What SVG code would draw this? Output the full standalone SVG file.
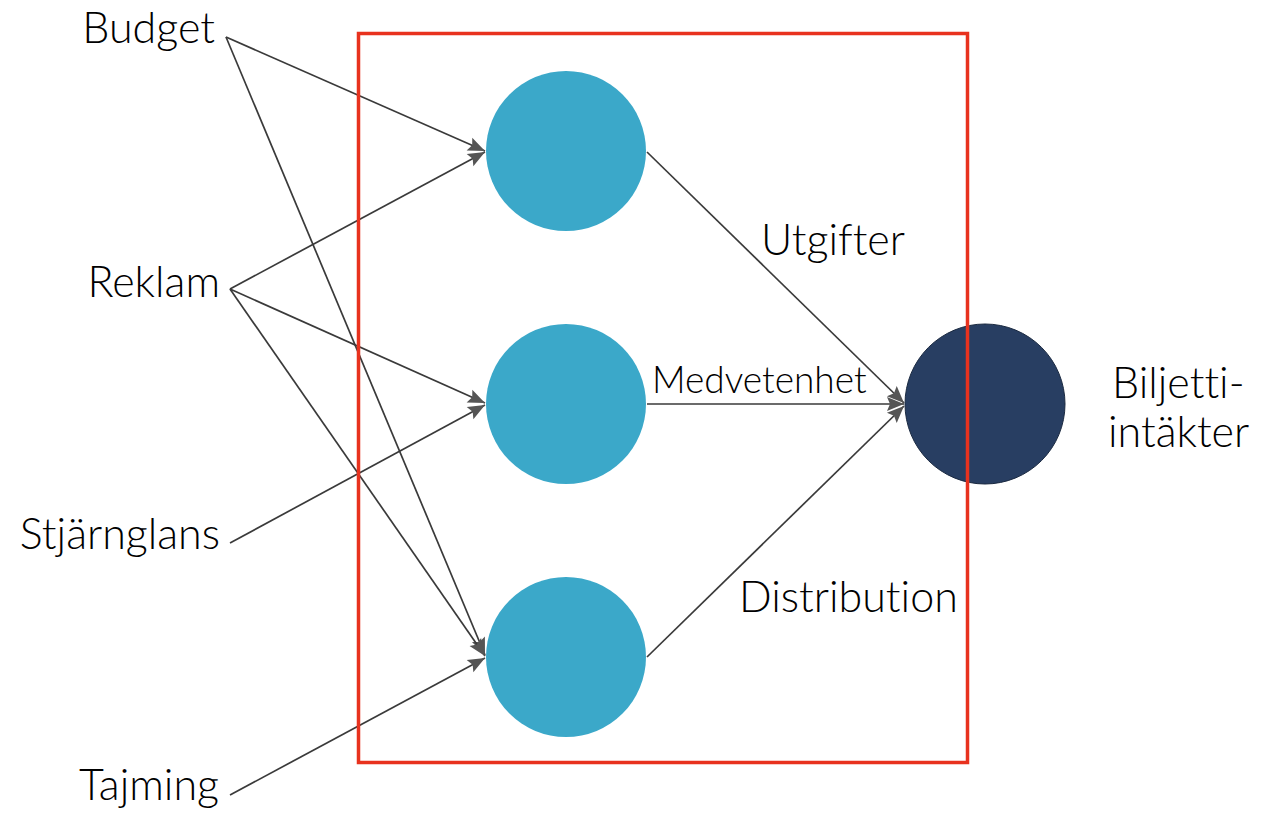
<svg xmlns="http://www.w3.org/2000/svg" width="1283" height="816" viewBox="0 0 1283 816">
<style>
.lbl{font-family:Lato,"Open Sans","Liberation Sans",sans-serif;font-weight:300;font-size:43px;fill:#000;font-variant-ligatures:none;font-feature-settings:"liga" 0,"clig" 0}
.mid{font-size:37px}
.edge{stroke:#3a3a3a;stroke-width:1.7;fill:none;marker-end:url(#ah)}
.hid{fill:#3BA8C9}
.out{fill:#283E62;stroke:#1a2940;stroke-width:1}
</style>
<defs>
<marker id="ah" markerUnits="userSpaceOnUse" markerWidth="20" markerHeight="20" viewBox="0 0 20 20" refX="18" refY="10" orient="auto">
<path d="M1,3 L18,10 L1,17 L4,10 Z" fill="#555"/>
</marker>
</defs>
<rect width="1283" height="816" fill="#fff"/>
<g id="edges">
<line class="edge" x1="226" y1="37" x2="485" y2="151"/>
<line class="edge" x1="226" y1="37" x2="485" y2="655"/>
<line class="edge" x1="230" y1="289" x2="485" y2="152"/>
<line class="edge" x1="230" y1="289" x2="485" y2="403"/>
<line class="edge" x1="230" y1="289" x2="485" y2="656"/>
<line class="edge" x1="230" y1="543" x2="485" y2="405"/>
<line class="edge" x1="230" y1="795" x2="485" y2="658"/>
<line class="edge" x1="647" y1="152" x2="904" y2="403"/>
<line class="edge" x1="647" y1="404" x2="904" y2="404"/>
<line class="edge" x1="647" y1="657" x2="904" y2="406"/>
</g>
<g id="n-budget"><text class="lbl" x="215" y="43" text-anchor="end">Budget</text></g>
<g id="n-reklam"><text class="lbl" x="220" y="297" text-anchor="end">Reklam</text></g>
<g id="n-stjarnglans"><text class="lbl" x="220" y="549" text-anchor="end">Stjärnglans</text></g>
<g id="n-tajming"><text class="lbl" x="219" y="800" text-anchor="end">Tajming</text></g>
<g id="h1"><circle class="hid" cx="566" cy="151" r="80"/></g>
<g id="h2"><circle class="hid" cx="566" cy="404" r="80"/></g>
<g id="h3"><circle class="hid" cx="566" cy="657" r="80"/></g>
<g id="out"><circle class="out" cx="985" cy="404" r="80"/></g>
<g id="lbl-utgifter"><text class="lbl" x="761" y="255">Utgifter</text></g>
<g id="lbl-medvetenhet"><text class="lbl mid" x="652" y="393">Medvetenhet</text></g>
<g id="lbl-distribution"><text class="lbl" x="739" y="612">Distribution</text></g>
<g id="box"><rect x="358.5" y="33.5" width="609" height="729" fill="none" stroke="#E8321E" stroke-width="3.5"/></g>
<g id="n-biljett"><text class="lbl" x="1112" y="398">Biljetti-</text><text class="lbl" x="1108" y="447">intäkter</text></g>
</svg>
